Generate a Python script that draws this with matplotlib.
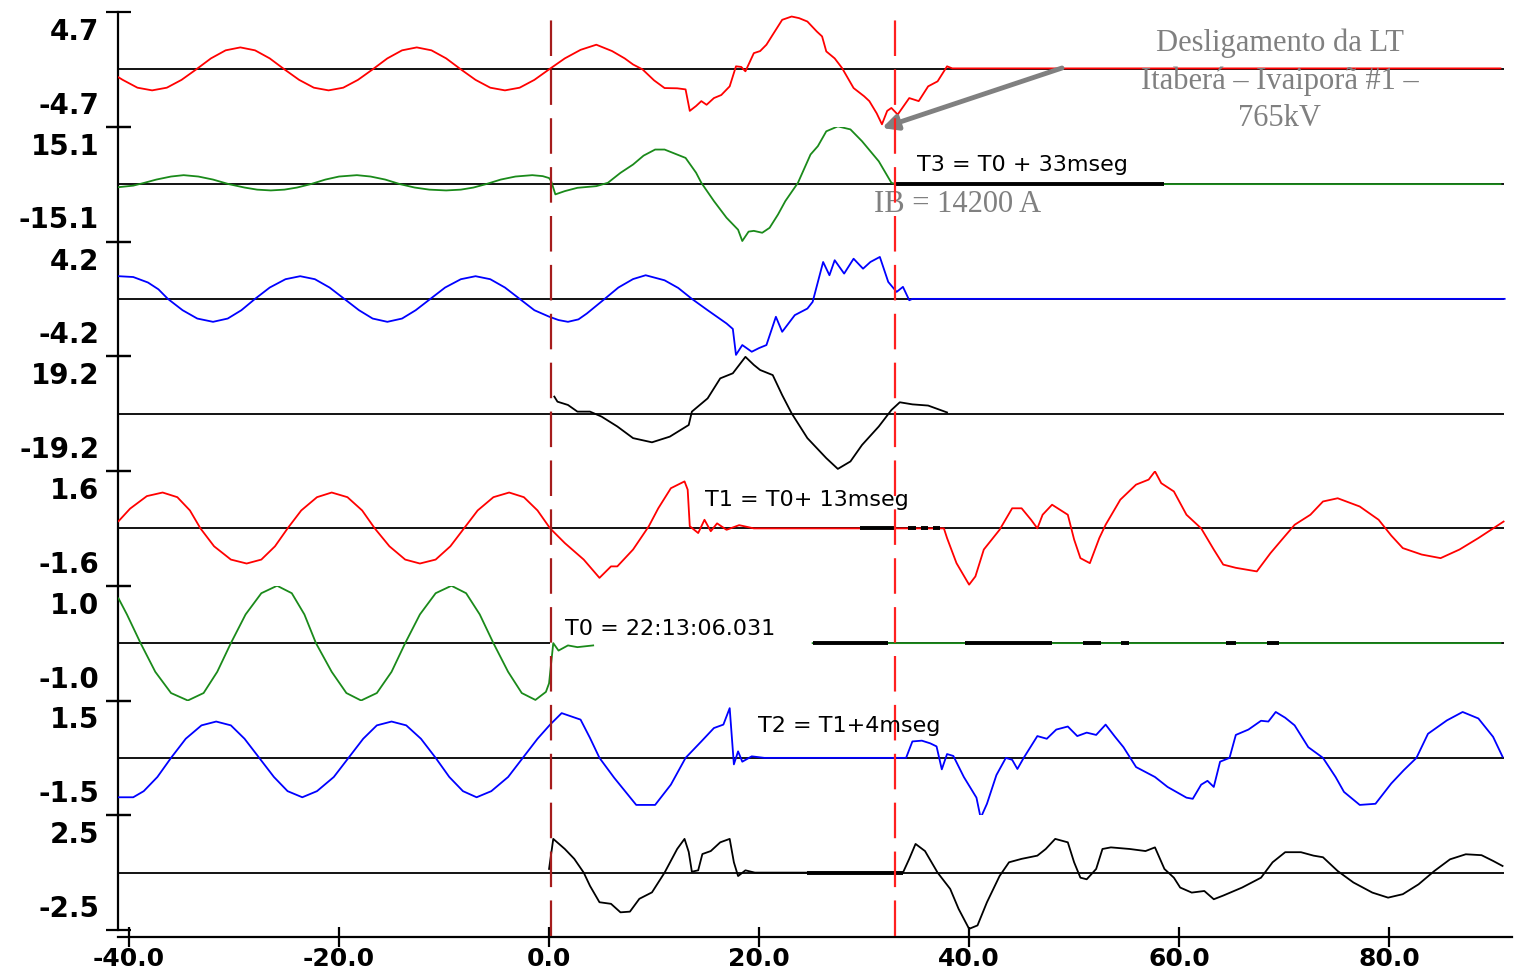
import numpy as np
import matplotlib.pyplot as plt

W, H = 1514, 973

# full scale of every channel (label shown at top, its negative at the bottom)
scales = [4.7, 15.1, 4.2, 19.2, 1.6, 1.0, 1.5, 2.5]
colors = ['#ff0000', '#1a8a1a', '#0000ff', '#000000',
          '#ff0000', '#1a8a1a', '#0000ff', '#000000']

nan = np.nan

# channel 1 (red, +-4.7)
ch1_t = [-41.0, -40.6, -39.2, -37.8, -36.4, -35.0, -33.6, -32.2, -30.8, -29.4, -28.0,
         -26.6, -25.2, -23.8, -22.4, -21.0, -19.6, -18.2, -16.8, -15.4, -14.0, -12.6,
         -11.2, -9.8, -8.4, -7.0, -5.6, -4.2, -2.8, -1.4, 0.0,
         1.5, 3.0, 4.5, 6.0, 7.2, 8.0, 8.9, 10.0, 11.0, 12.2, 13.0, 13.4, 14.0, 14.5,
         15.0, 15.7, 16.4, 17.2, 17.8, 18.3, 18.7, 19.5, 20.1, 20.7, 21.3, 22.2, 23.1,
         23.8, 24.6, 25.5, 26.0, 26.4, 27.2, 27.9, 29.0, 30.0, 30.5, 31.2, 31.7, 32.2,
         32.6, 33.2, 34.3, 35.2, 36.1, 37.0, 37.9, 38.4, 90.6]
ch1_v = [-0.65, -0.86, -1.5, -1.72, -1.5, -0.86, 0.0, 0.9, 1.56, 1.8, 1.56,
         0.9, 0.0, -0.86, -1.5, -1.72, -1.5, -0.86, 0.0, 0.9, 1.56, 1.8,
         1.56, 0.9, 0.0, -0.86, -1.5, -1.72, -1.5, -0.86, 0.0,
         0.9, 1.6, 2.02, 1.5, 0.9, 0.4, 0.0, -0.9, -1.53, -1.55, -1.64, -3.4, -3.0, -2.6,
         -2.9, -2.35, -2.1, -1.39, 0.25, 0.2, -0.16, 1.33, 1.5, 2.02, 2.84, 4.06, 4.33,
         4.2, 3.92, 3.1, 2.7, 1.47, 0.9, 0.11, -1.53, -2.2, -2.6, -3.6, -4.5, -3.4,
         -3.16, -3.7, -2.35, -2.6, -1.39, -0.98, 0.25, 0.08, 0.08]

# channel 2 (green, +-15.1)
ch2_t = [-41.0, -39.6, -38.6, -37.4, -36.0, -34.8, -33.4, -32.0, -30.5, -29.0, -27.8,
         -26.5, -25.2, -24.0, -22.7, -21.3, -20.0, -18.3, -17.0, -15.6, -14.2, -12.8,
         -11.4, -9.8, -8.4, -7.2, -6.0, -4.6, -3.2, -1.6, -0.6, 0.0, 0.2,
         0.6, 1.5, 2.7, 4.5, 5.6, 6.8, 8.0, 9.0, 10.1, 11.0, 12.0, 13.0, 14.0, 14.5,
         15.7, 16.9, 18.0, 18.4, 19.0, 19.5, 20.3, 21.0, 21.8, 22.5, 23.7, 24.9, 25.6,
         26.4, 27.5, 28.7, 29.8, 31.4, 32.6, 33.0, 90.6]
ch2_v = [-0.8, -0.4, 0.3, 1.2, 2.0, 2.36, 2.0, 1.2, 0.0, -0.9, -1.45,
         -1.66, -1.45, -0.9, 0.0, 1.2, 2.0, 2.36, 2.0, 1.2, 0.0, -0.9,
         -1.45, -1.66, -1.45, -0.9, 0.0, 1.2, 2.0, 2.36, 2.1, 1.6, 0.8,
         -2.7, -1.84, -0.97, -0.53, 0.35, 2.97, 5.16, 7.5, 9.1, 9.1, 8.0, 6.9, 3.0, 0.35,
         -4.46, -8.85, -12.0, -14.97, -12.5, -12.3, -12.8, -11.5, -8.0, -4.46, 0.35, 7.8, 10.0,
         13.9, 15.2, 14.4, 11.3, 6.0, 0.35, 0.0, 0.0]

# channel 3 (blue, +-4.2)
ch3_t = [-41.0, -39.6, -38.2, -37.2, -36.3, -34.9, -33.5, -32.0, -30.6, -29.3, -28.0,
         -26.6, -25.1, -23.7, -22.3, -20.9, -19.5, -18.1, -16.8, -15.4, -14.0, -12.7,
         -11.3, -9.9, -8.4, -7.0, -5.6, -4.2, -2.8, -1.4, 0.0,
         0.9, 1.8, 2.8, 3.6, 5.3, 6.6, 8.0, 9.2, 11.0, 12.3, 13.6, 15.1, 16.9, 17.5,
         17.8, 18.4, 19.3, 20.0, 20.7, 21.6, 22.2, 23.4, 24.6, 25.1, 26.1, 26.7, 27.2,
         28.1, 29.0, 29.9, 30.6, 31.5, 32.3, 33.1, 33.7, 34.3, 34.6, 91.0]
ch3_v = [1.66, 1.6, 1.2, 0.7, 0.0, -0.83, -1.44, -1.68, -1.44, -0.83, 0.0,
         0.83, 1.44, 1.66, 1.44, 0.83, 0.0, -0.83, -1.44, -1.68, -1.44, -0.83,
         0.0, 0.83, 1.44, 1.66, 1.44, 0.83, 0.0, -0.83, -1.3,
         -1.55, -1.68, -1.5, -1.07, 0.0, 0.83, 1.45, 1.73, 1.36, 0.8, 0.0, -0.83, -1.8, -2.2,
         -4.1, -3.38, -3.87, -3.6, -3.38, -1.31, -2.41, -1.19, -0.71, -0.22, 2.7, 1.73, 2.83,
         1.85, 2.94, 2.21, 2.7, 3.07, 1.24, 0.51, 0.88, -0.1, 0.0, 0.0]

# channel 4 (black, +-19.2), only after T0
ch4_t = [0.5, 0.8, 1.8, 2.7, 3.9, 5.0, 6.5, 8.0, 9.8, 11.5, 13.3, 13.6, 15.1, 16.3,
         17.5, 18.7, 19.5, 20.1, 21.3, 22.2, 23.1, 24.6, 26.4, 27.5, 28.7, 29.8, 31.4,
         32.6, 33.4, 34.6, 36.1, 37.9]
ch4_v = [5.7, 4.0, 2.9, 0.67, 0.67, -1.0, -4.3, -8.2, -9.6, -7.7, -3.8, 0.67, 5.1, 11.8,
         13.5, 19.0, 16.3, 14.6, 12.9, 6.2, 0.1, -8.2, -14.9, -18.5, -16.0, -10.5, -4.3,
         1.2, 3.8, 3.1, 2.7, 0.4]

# channel 5 (red, +-1.6)
ch5_t = [-41.0, -39.9, -38.3, -36.8, -35.4, -34.2, -33.2, -31.9, -30.3, -28.8, -27.4,
         -26.1, -24.9, -23.6, -22.1, -20.7, -19.2, -17.8, -16.6, -15.2, -13.7, -12.3,
         -10.8, -9.4, -8.1, -6.8, -5.3, -3.8, -2.4, -1.1, 0.1,
         1.5, 3.3, 4.8, 5.9, 6.5, 8.0, 9.5, 10.4, 11.6, 12.9, 13.2, 13.4, 14.2, 14.8,
         15.4, 16.0, 16.9, 18.1, 19.5, 37.6, 37.9, 38.8, 40.0, 40.6, 41.4, 42.9, 44.1,
         45.0, 45.9, 46.5, 47.0, 47.9, 49.4, 50.0, 50.6, 51.5, 52.4, 53.0, 54.4, 55.9,
         57.1, 57.7, 58.3, 59.5, 60.7, 62.1, 63.3, 64.2, 65.4, 67.4, 68.7, 69.8, 71.0,
         72.5, 73.7, 75.1, 77.2, 79.0, 80.2, 81.3, 83.1, 84.9, 86.7, 88.5, 90.9]
ch5_v = [0.2, 0.55, 0.9, 1.0, 0.87, 0.5, 0.0, -0.5, -0.87, -0.98, -0.87,
         -0.5, 0.0, 0.5, 0.87, 1.0, 0.87, 0.5, 0.0, -0.5, -0.87, -0.98,
         -0.87, -0.5, 0.0, 0.5, 0.87, 1.0, 0.87, 0.5, 0.0,
         -0.41, -0.87, -1.38, -1.06, -1.06, -0.59, 0.06, 0.56, 1.12, 1.31, 1.08, 0.06, -0.13, 0.24,
         -0.08, 0.14, -0.04, 0.09, 0.0, 0.0, -0.27, -0.97, -1.57, -1.34, -0.59, -0.04, 0.56,
         0.56, 0.24, 0.0, 0.38, 0.66, 0.38, -0.31, -0.83, -0.97, -0.27, 0.1, 0.8, 1.22,
         1.36, 1.59, 1.26, 1.03, 0.38, 0.0, -0.59, -1.01, -1.1, -1.2, -0.69, -0.31, 0.1,
         0.38, 0.75, 0.84, 0.61, 0.24, -0.2, -0.55, -0.73, -0.83, -0.59, -0.27, 0.19]

# channel 6 (green, +-1.0), no samples while the T0 label sits on it
ch6_t = [-41.0, -40.2, -38.9, -37.5, -36.0, -34.4, -32.9, -31.6, -30.3, -28.9, -27.4,
         -25.9, -24.5, -23.3, -22.2, -20.7, -19.3, -17.9, -16.4, -15.0, -13.7, -12.3,
         -10.8, -9.3, -7.9, -6.6, -5.3, -3.9, -2.6, -1.3, -0.3, 0.0, 0.4, 0.9, 1.8,
         2.7, 4.2, 4.3, 25.1, 90.6]
ch6_v = [0.78, 0.5, 0.0, -0.5, -0.87, -1.0, -0.87, -0.5, 0.0, 0.5, 0.87,
         1.0, 0.87, 0.5, 0.0, -0.5, -0.87, -1.0, -0.87, -0.5, 0.0, 0.5,
         0.87, 1.0, 0.87, 0.5, 0.0, -0.5, -0.87, -0.99, -0.85, -0.7, 0.0, -0.13, -0.04,
         -0.07, -0.04, nan, 0.0, 0.0]

# channel 7 (blue, +-1.5)
ch7_t = [-41.0, -39.6, -38.6, -37.3, -36.0, -34.6, -33.1, -31.7, -30.3, -29.0, -27.6,
         -26.2, -24.9, -23.5, -22.1, -20.5, -19.1, -17.7, -16.4, -15.0, -13.6, -12.2,
         -10.8, -9.5, -8.2, -6.9, -5.5, -3.9, -2.5, -1.1, 0.1,
         1.2, 3.0, 3.9, 4.8, 6.2, 8.3, 10.1, 11.6, 13.0, 14.5, 15.7, 16.6, 17.2, 17.6,
         18.0, 18.4, 19.3, 20.5, 34.0, 34.6, 35.5, 36.3, 36.9, 37.4, 37.9, 38.5, 39.5,
         40.7, 41.1, 41.7, 42.6, 43.5, 44.1, 44.6, 45.2, 46.5, 47.4, 48.3, 49.4, 50.3,
         51.2, 52.1, 53.0, 53.9, 54.7, 55.9, 57.7, 58.9, 60.7, 61.3, 62.1, 62.7, 63.3,
         63.9, 64.8, 65.4, 66.6, 67.8, 68.5, 69.2, 70.1, 71.0, 72.3, 73.7, 74.9, 75.7,
         77.2, 78.7, 80.2, 81.4, 82.6, 83.7, 85.5, 87.0, 88.5, 89.9, 90.8]
ch7_v = [-1.03, -1.03, -0.87, -0.5, 0.0, 0.5, 0.85, 0.95, 0.85, 0.5, 0.0,
         -0.5, -0.87, -1.03, -0.87, -0.5, 0.0, 0.5, 0.85, 0.95, 0.85, 0.5,
         0.0, -0.5, -0.87, -1.03, -0.87, -0.5, 0.0, 0.5, 0.87,
         1.17, 1.0, 0.52, 0.0, -0.52, -1.23, -1.23, -0.7, 0.0, 0.43, 0.78, 0.87, 1.3, -0.17,
         0.17, -0.1, 0.04, 0.0, 0.0, 0.43, 0.45, 0.38, 0.3, -0.3, 0.1, 0.05, -0.5,
         -1.04, -1.57, -1.2, -0.45, 0.0, -0.05, -0.29, 0.0, 0.57, 0.5, 0.74, 0.82, 0.57,
         0.66, 0.6, 0.87, 0.55, 0.28, -0.24, -0.5, -0.76, -1.04, -1.07, -0.7, -0.6, -0.76,
         -0.1, 0.0, 0.6, 0.74, 0.97, 0.95, 1.2, 1.05, 0.85, 0.28, 0.0, -0.5, -0.89,
         -1.23, -1.2, -0.67, -0.32, 0.0, 0.63, 0.98, 1.2, 1.03, 0.55, 0.03]

# channel 8 (black, +-2.5), only after T0
ch8_t = [0.0, 0.4, 1.5, 2.4, 3.3, 3.9, 4.8, 5.9, 6.8, 7.7, 8.6, 9.8, 11.0, 12.2, 12.9,
         13.3, 13.6, 14.2, 14.6, 15.4, 16.3, 17.2, 17.6, 18.0, 18.7, 19.6, 33.7, 34.3,
         34.9, 35.8, 37.0, 38.2, 39.0, 40.0, 40.8, 41.7, 42.9, 43.8, 45.0, 46.5, 47.3,
         48.2, 49.4, 50.0, 50.6, 51.2, 52.1, 52.7, 53.5, 55.3, 56.8, 57.7, 58.6, 59.5,
         60.1, 61.2, 62.4, 63.3, 64.2, 66.0, 67.8, 68.9, 70.1, 71.6, 72.8, 73.7, 75.1,
         76.6, 78.4, 79.9, 81.3, 82.8, 84.3, 85.8, 87.3, 88.8, 89.9, 90.8]
ch8_v = [0.16, 1.47, 1.03, 0.6, 0.0, -0.58, -1.29, -1.36, -1.73, -1.7, -1.14, -0.86, 0.0,
         1.03, 1.47, 0.9, 0.04, 0.1, 0.81, 0.94, 1.32, 1.47, 0.45, -0.15, 0.1, 0.0, 0.0,
         0.6, 1.25, 0.94, 0.0, -0.71, -1.58, -2.45, -2.3, -1.29, -0.15, 0.45, 0.6, 0.74,
         1.03, 1.47, 1.32, 0.45, -0.22, -0.29, 0.16, 1.03, 1.1, 1.03, 0.94, 1.1, 0.16,
         -0.22, -0.65, -0.87, -0.8, -1.16, -1.0, -0.65, -0.22, 0.45, 0.89, 0.89, 0.74,
         0.67, 0.07, -0.43, -0.87, -1.09, -0.94, -0.51, 0.07, 0.58, 0.8, 0.76, 0.51, 0.29]

# stretches where the recorder drew a dark, noisy band on the zero line
dark_spans = [[], [(32.9, 58.6)], [], [], [(29.6, 32.9), (34.2, 34.9), (35.4, 36.1), (36.6, 37.2)],
              [(25.1, 32.3), (39.6, 47.9), (50.8, 52.6), (54.5, 55.2), (64.5, 65.4), (68.4, 69.5)],
              [], [(24.6, 33.7)]]

# zero lines: (start, end) pieces per channel
zero_spans = [[(-41.05, 90.9)]] * 5 + [[(-41.05, 0.1), (25.1, 90.9)]] + [[(-41.05, 90.9)]] * 2

x_ticks = [-40, -20, 0, 20, 40, 60, 80]
cursor_times = [0.2, 32.9]
cursor_colors = ['#a51c1c', '#ff2020']

channels = [(ch1_t, ch1_v), (ch2_t, ch2_v), (ch3_t, ch3_v), (ch4_t, ch4_v),
            (ch5_t, ch5_v), (ch6_t, ch6_v), (ch7_t, ch7_v), (ch8_t, ch8_v)]


def frac(px, py):
    return px / W, 1 - py / H


fig = plt.figure(figsize=(W / 100, H / 100), dpi=100)

x0, x1 = 118, 1512
y0, y1 = 12, 930
xlim = (-41.05, 91.7)
strip_h = (y1 - y0) / 8
label_font = dict(fontsize=20, fontweight='bold', family='DejaVu Sans')

axes = []
for i in range(8):
    top = y0 + i * strip_h
    ax = fig.add_axes([x0 / W, 1 - (top + strip_h) / H, (x1 - x0) / W, strip_h / H])
    s = scales[i]
    ax.set_xlim(*xlim)
    ax.set_ylim(-s, s)
    ax.patch.set_alpha(0)
    for side in ['top', 'right', 'bottom']:
        ax.spines[side].set_visible(False)
    ax.spines['left'].set_linewidth(1.6)
    ax.set_yticks([-s, s])
    ax.set_yticklabels([])
    ax.tick_params(axis='y', direction='inout', length=18, width=1.6)
    ax.set_xticks([])

    for a, b in zero_spans[i]:
        ax.hlines(0, a, b, color='black', lw=1.3, zorder=1)
    t, v = channels[i]
    ax.plot(t, v, color=colors[i], lw=1.3, zorder=3)
    for a, b in dark_spans[i]:
        ax.hlines(0, a, b, color='black', lw=2.8, zorder=4)

    ax.annotate(f'{s:.1f}', xy=(0, 1), xycoords='axes fraction', xytext=(-19, -6),
                textcoords='offset pixels', ha='right', va='top', **label_font)
    ax.annotate(f'{-s:.1f}', xy=(0, 0), xycoords='axes fraction', xytext=(-19, 7),
                textcoords='offset pixels', ha='right', va='bottom', **label_font)
    axes.append(ax)

# time axis on the last strip
ax = axes[-1]
ax.spines['bottom'].set_visible(True)
ax.spines['bottom'].set_position(('outward', 5))
ax.spines['bottom'].set_linewidth(1.6)
ax.set_xticks(x_ticks)
ax.set_xticklabels([f'{x:.1f}' for x in x_ticks])
ax.tick_params(axis='x', direction='inout', length=14, width=1.6, pad=0)
for lbl in ax.get_xticklabels():
    lbl.set_fontsize(18)
    lbl.set_fontweight('bold')
ax.xaxis.get_major_ticks()[2].tick1line.set_color('#ff0000')

# event labels
t_font = dict(fontsize=16, family='DejaVu Sans', color='black')
fig.text(*frac(917, 165), 'T3 = T0 + 33mseg', va='center', ha='left', **t_font)
fig.text(*frac(705, 500), 'T1 = T0+ 13mseg', va='center', ha='left', **t_font)
fig.text(*frac(758, 726), 'T2 = T1+4mseg', va='center', ha='left', **t_font)
fig.text(*frac(565, 629), 'T0 = 22:13:06.031', va='center', ha='left', **t_font)

# overlay: cursors, notes and arrow
ov = fig.add_axes([x0 / W, 1 - y1 / H, (x1 - x0) / W, (y1 - y0) / H])
ov.set_xlim(*xlim)
ov.set_ylim(0, 1)
ov.axis('off')
ov.patch.set_alpha(0)

gray = '#808080'
serif = dict(family='Liberation Serif', color=gray, fontsize=22)
ov.text(*frac(1280, 81), 'Desligamento da LT\nItaberá – Ivaiporã #1 –\n765kV',
        transform=fig.transFigure, ha='center', va='center', linespacing=1.38,
        zorder=1, **serif)
ov.text(*frac(958, 205), 'IB = 14200 A', transform=fig.transFigure,
        ha='center', va='center', zorder=1, **serif)
ov.annotate('', xy=frac(882, 128), xycoords='figure fraction',
            xytext=frac(1062, 68), textcoords='figure fraction',
            arrowprops=dict(arrowstyle='-|>,head_length=0.9,head_width=0.45',
                            color=gray, lw=3.5, shrinkA=0, shrinkB=0), zorder=2)

for tc, cc in zip(cursor_times, cursor_colors):
    ov.axvline(tc, ymin=-0.006, ymax=1.002, color=cc, lw=1.6,
               dashes=(16, 6), clip_on=False, zorder=5)

fig.savefig('out.png', dpi=100, facecolor='white')
